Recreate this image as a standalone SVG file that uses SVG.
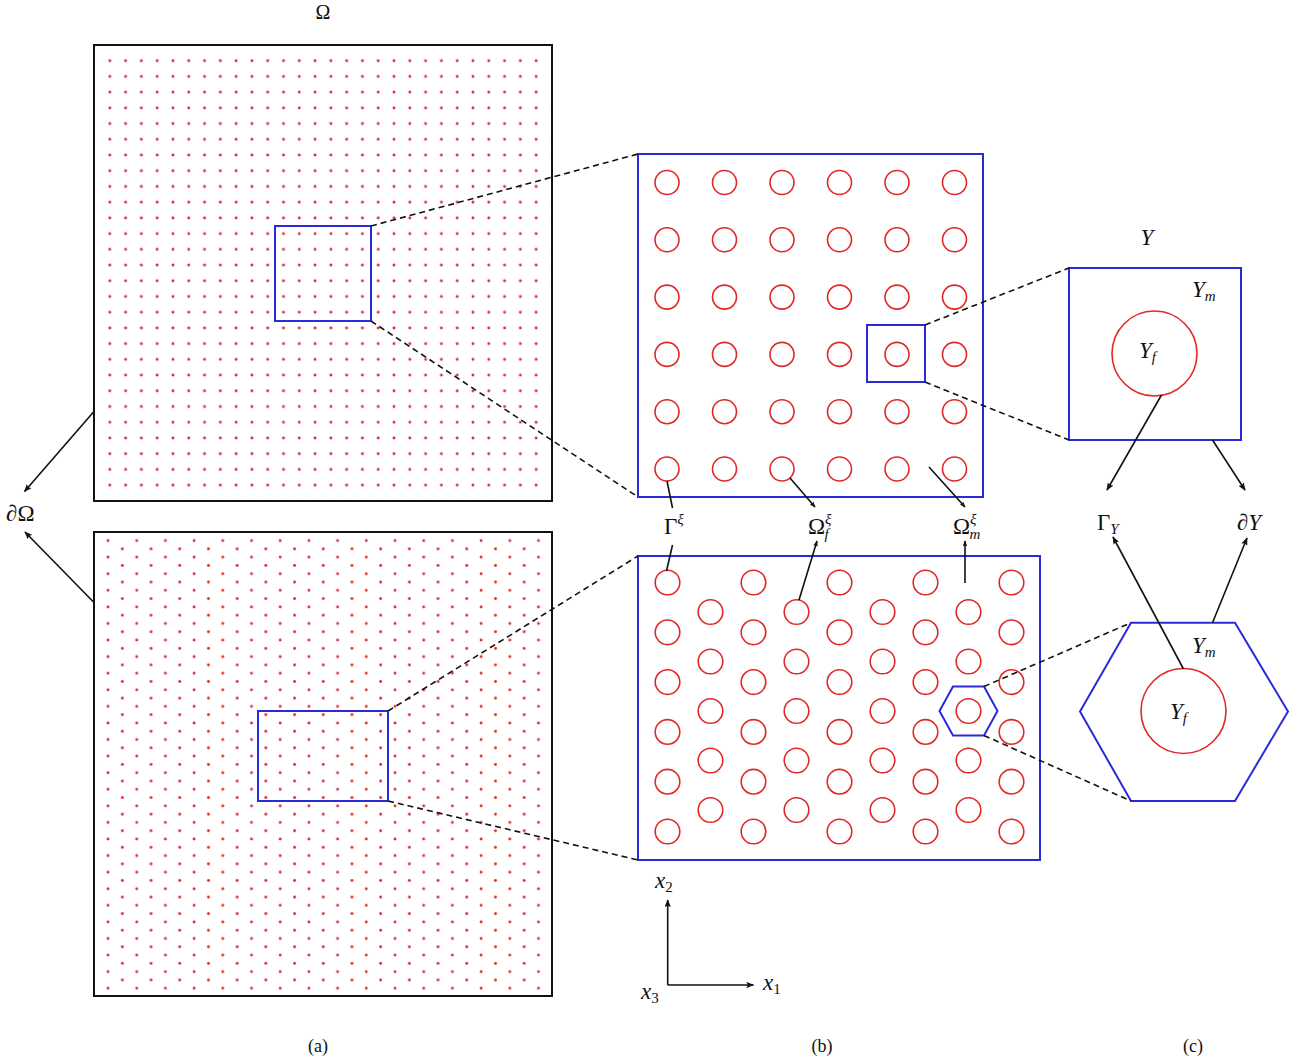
<svg xmlns="http://www.w3.org/2000/svg" width="1304" height="1064" viewBox="0 0 1304 1064">
<defs>
<style>
.frame{fill:none;stroke:#111;stroke-width:2}
.blue{fill:none;stroke:#2b2bd6;stroke-width:2}
.fib{fill:none;stroke:#e02828;stroke-width:1.6}
.fibc{fill:none;stroke:#e02828;stroke-width:1.6}
.dash{fill:none;stroke:#111;stroke-width:1.6;stroke-dasharray:6 4}
.ln{fill:none;stroke:#111;stroke-width:1.6}
.arr{fill:none;stroke:#111;stroke-width:1.6;marker-end:url(#ah)}
.arrs{fill:none;stroke:#111;stroke-width:1.6;marker-end:url(#ahs)}
text{font-family:"Liberation Serif","Times New Roman",serif;fill:#111}
.m{font-size:23px}
.i{font-style:italic}
.cap{font-size:18px}
</style>
<marker id="ah" viewBox="0 0 10 8" refX="9" refY="4" markerWidth="8" markerHeight="6.4" markerUnits="userSpaceOnUse" orient="auto">
<path d="M0,0 L10,4 L0,8 L2,4 Z" fill="#111"/>
</marker>
<marker id="ahs" viewBox="0 0 10 8" refX="9" refY="4" markerWidth="6" markerHeight="4.8" markerUnits="userSpaceOnUse" orient="auto">
<path d="M0,0 L10,4 L0,8 L2,4 Z" fill="#111"/>
</marker>
<pattern id="sq" patternUnits="userSpaceOnUse" x="101.9" y="52.86" width="15.79" height="15.72">
<circle cx="7.9" cy="7.86" r="1.45" fill="#e02828"/>
</pattern>
<pattern id="hx" patternUnits="userSpaceOnUse" x="101" y="536.7" width="28.7" height="16.58">
<circle cx="7" cy="4" r="1.45" fill="#e02828"/>
<circle cx="21.35" cy="12.29" r="1.45" fill="#e02828"/>
</pattern>
</defs>
<rect width="1304" height="1064" fill="#fff"/>

<g id="omega-square">
<rect x="96" y="47" width="454" height="452" fill="url(#sq)"/>
<rect class="frame" x="94" y="45" width="458" height="456"/>
<rect class="blue" x="275" y="226" width="96" height="95"/>
<text x="323" y="19" text-anchor="middle" font-size="20">Ω</text>
</g>

<g id="omega-hex">
<rect x="96" y="534" width="454" height="460" fill="url(#hx)"/>
<rect class="frame" x="94" y="532" width="458" height="464"/>
<rect class="blue" x="258" y="711" width="130" height="90"/>
</g>

<g id="b-square">
<rect class="blue" x="638" y="154" width="345" height="343"/>
<g class="fib">
<circle cx="667" cy="182.5" r="12"/><circle cx="724.5" cy="182.5" r="12"/><circle cx="782" cy="182.5" r="12"/><circle cx="839.5" cy="182.5" r="12"/><circle cx="897" cy="182.5" r="12"/><circle cx="954.5" cy="182.5" r="12"/>
<circle cx="667" cy="239.8" r="12"/><circle cx="724.5" cy="239.8" r="12"/><circle cx="782" cy="239.8" r="12"/><circle cx="839.5" cy="239.8" r="12"/><circle cx="897" cy="239.8" r="12"/><circle cx="954.5" cy="239.8" r="12"/>
<circle cx="667" cy="297.1" r="12"/><circle cx="724.5" cy="297.1" r="12"/><circle cx="782" cy="297.1" r="12"/><circle cx="839.5" cy="297.1" r="12"/><circle cx="897" cy="297.1" r="12"/><circle cx="954.5" cy="297.1" r="12"/>
<circle cx="667" cy="354.4" r="12"/><circle cx="724.5" cy="354.4" r="12"/><circle cx="782" cy="354.4" r="12"/><circle cx="839.5" cy="354.4" r="12"/><circle cx="897" cy="354.4" r="12"/><circle cx="954.5" cy="354.4" r="12"/>
<circle cx="667" cy="411.7" r="12"/><circle cx="724.5" cy="411.7" r="12"/><circle cx="782" cy="411.7" r="12"/><circle cx="839.5" cy="411.7" r="12"/><circle cx="897" cy="411.7" r="12"/><circle cx="954.5" cy="411.7" r="12"/>
<circle cx="667" cy="469" r="12"/><circle cx="724.5" cy="469" r="12"/><circle cx="782" cy="469" r="12"/><circle cx="839.5" cy="469" r="12"/><circle cx="897" cy="469" r="12"/><circle cx="954.5" cy="469" r="12"/>
</g>
<rect class="blue" x="867" y="325" width="58" height="57"/>
</g>

<g id="b-hex">
<rect class="blue" x="638" y="556" width="402" height="304"/>
<g class="fib">
<circle cx="667.5" cy="582.5" r="12.3"/><circle cx="667.5" cy="632.3" r="12.3"/><circle cx="667.5" cy="682.1" r="12.3"/><circle cx="667.5" cy="731.9" r="12.3"/><circle cx="667.5" cy="781.7" r="12.3"/><circle cx="667.5" cy="831.5" r="12.3"/>
<circle cx="753.5" cy="582.5" r="12.3"/><circle cx="753.5" cy="632.3" r="12.3"/><circle cx="753.5" cy="682.1" r="12.3"/><circle cx="753.5" cy="731.9" r="12.3"/><circle cx="753.5" cy="781.7" r="12.3"/><circle cx="753.5" cy="831.5" r="12.3"/>
<circle cx="839.5" cy="582.5" r="12.3"/><circle cx="839.5" cy="632.3" r="12.3"/><circle cx="839.5" cy="682.1" r="12.3"/><circle cx="839.5" cy="731.9" r="12.3"/><circle cx="839.5" cy="781.7" r="12.3"/><circle cx="839.5" cy="831.5" r="12.3"/>
<circle cx="925.5" cy="582.5" r="12.3"/><circle cx="925.5" cy="632.3" r="12.3"/><circle cx="925.5" cy="682.1" r="12.3"/><circle cx="925.5" cy="731.9" r="12.3"/><circle cx="925.5" cy="781.7" r="12.3"/><circle cx="925.5" cy="831.5" r="12.3"/>
<circle cx="1011.5" cy="582.5" r="12.3"/><circle cx="1011.5" cy="632.3" r="12.3"/><circle cx="1011.5" cy="682.1" r="12.3"/><circle cx="1011.5" cy="731.9" r="12.3"/><circle cx="1011.5" cy="781.7" r="12.3"/><circle cx="1011.5" cy="831.5" r="12.3"/>
<circle cx="710.5" cy="612" r="12.3"/><circle cx="710.5" cy="661.5" r="12.3"/><circle cx="710.5" cy="711" r="12.3"/><circle cx="710.5" cy="760.5" r="12.3"/><circle cx="710.5" cy="810" r="12.3"/>
<circle cx="796.5" cy="612" r="12.3"/><circle cx="796.5" cy="661.5" r="12.3"/><circle cx="796.5" cy="711" r="12.3"/><circle cx="796.5" cy="760.5" r="12.3"/><circle cx="796.5" cy="810" r="12.3"/>
<circle cx="882.5" cy="612" r="12.3"/><circle cx="882.5" cy="661.5" r="12.3"/><circle cx="882.5" cy="711" r="12.3"/><circle cx="882.5" cy="760.5" r="12.3"/><circle cx="882.5" cy="810" r="12.3"/>
<circle cx="968.5" cy="612" r="12.3"/><circle cx="968.5" cy="661.5" r="12.3"/><circle cx="968.5" cy="711" r="12.3"/><circle cx="968.5" cy="760.5" r="12.3"/><circle cx="968.5" cy="810" r="12.3"/>
</g>
<polygon class="blue" points="953,686.5 984,686.5 997.5,711 984,735.5 953,735.5 939.5,711"/>
</g>

<g id="cell-square">
<rect class="blue" x="1069" y="268" width="172" height="172"/>
<circle class="fibc" cx="1154.5" cy="353.5" r="42.5"/>
<text class="m i" x="1147" y="245" text-anchor="middle">Y</text>
<text class="m i" x="1192" y="297">Y<tspan font-size="15" dy="4">m</tspan></text>
<text class="m i" x="1139" y="358">Y<tspan font-size="15" dy="4">f</tspan></text>
</g>

<g id="cell-hex">
<polygon class="blue" points="1131,622.7 1235,622.7 1288,711.5 1235,801 1131,801 1080,711.5"/>
<circle class="fibc" cx="1183.5" cy="711" r="42.5"/>
<text class="m i" x="1192" y="653">Y<tspan font-size="15" dy="4">m</tspan></text>
<text class="m i" x="1170" y="719">Y<tspan font-size="15" dy="4">f</tspan></text>
</g>

<g id="labels">
<text class="m i" x="6" y="521">∂<tspan font-style="normal">Ω</tspan></text>
<text class="m" x="664" y="534">Γ<tspan class="i" font-size="15" dy="-10">ξ</tspan></text>
<text class="m" x="808" y="534">Ω<tspan class="i" font-size="15" dy="-10">ξ</tspan><tspan class="i" font-size="15" dx="-7" dy="15">f</tspan></text>
<text class="m" x="953" y="534">Ω<tspan class="i" font-size="15" dy="-10">ξ</tspan><tspan class="i" font-size="15" dx="-7" dy="15">m</tspan></text>
<text class="m" x="1097" y="530">Γ<tspan class="i" font-size="15" dy="4">Y</tspan></text>
<text class="m i" x="1237" y="530">∂Y</text>
<text class="m i" x="655" y="888">x<tspan font-size="15" font-style="normal" dy="4">2</tspan></text>
<text class="m i" x="763" y="990">x<tspan font-size="15" font-style="normal" dy="4">1</tspan></text>
<text class="m i" x="641" y="999">x<tspan font-size="15" font-style="normal" dy="4">3</tspan></text>
<text class="cap" x="318" y="1052" text-anchor="middle">(a)</text>
<text class="cap" x="822" y="1052" text-anchor="middle">(b)</text>
<text class="cap" x="1193" y="1052" text-anchor="middle">(c)</text>
</g>

<g id="connectors">
<line class="dash" x1="371" y1="226" x2="638" y2="154"/>
<line class="dash" x1="371" y1="321" x2="638" y2="497"/>
<line class="dash" x1="388" y1="711" x2="638" y2="556"/>
<line class="dash" x1="388" y1="801" x2="638" y2="860"/>
<line class="dash" x1="925" y1="325" x2="1069" y2="268"/>
<line class="dash" x1="925" y1="382" x2="1069" y2="440"/>
<line class="dash" x1="984" y1="686.5" x2="1131" y2="622.7"/>
<line class="dash" x1="984" y1="735.5" x2="1131" y2="801"/>
<line class="arr" x1="93.5" y1="412" x2="24.5" y2="491.5"/>
<line class="arr" x1="93.5" y1="602" x2="25" y2="532"/>
<line class="ln" x1="672.5" y1="508" x2="667" y2="481"/>
<line class="ln" x1="672.5" y1="545" x2="666.5" y2="571"/>
<line class="arrs" x1="790" y1="478" x2="815" y2="507"/>
<line class="arrs" x1="799" y1="600" x2="817" y2="541"/>
<line class="arrs" x1="929" y1="467" x2="965" y2="507"/>
<line class="arrs" x1="965" y1="583" x2="965" y2="541"/>
<line class="arr" x1="1161.5" y1="395" x2="1107" y2="490"/>
<line class="arr" x1="1212.5" y1="440" x2="1245" y2="490"/>
<line class="arr" x1="1183.5" y1="669" x2="1113" y2="537"/>
<line class="arr" x1="1212.5" y1="622.7" x2="1247" y2="538"/>
<line class="arr" x1="667.7" y1="985" x2="667.7" y2="900"/>
<line class="arr" x1="667.7" y1="985" x2="753.5" y2="985"/>
</g>
</svg>
